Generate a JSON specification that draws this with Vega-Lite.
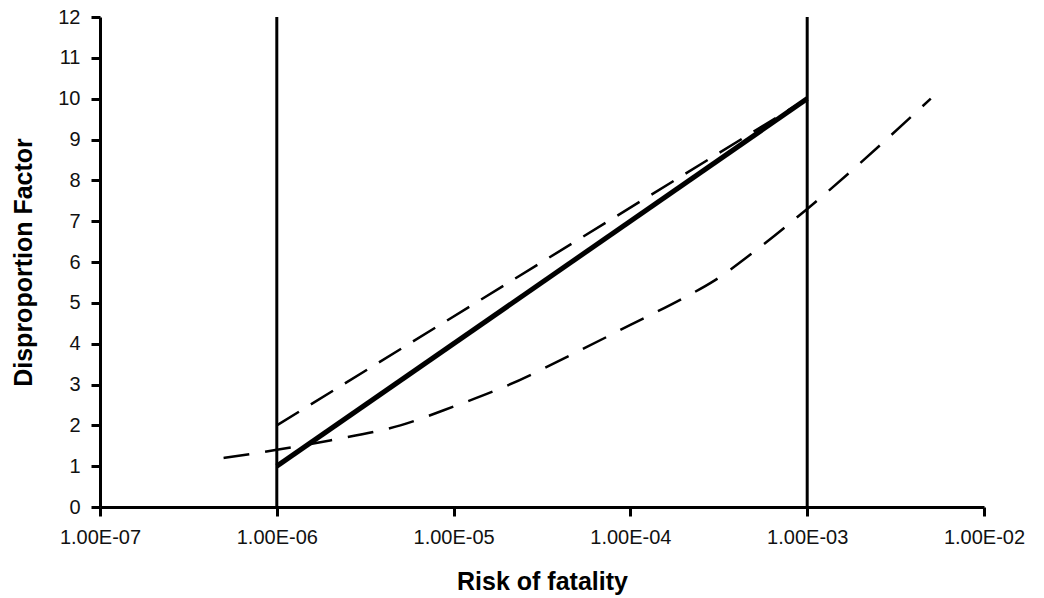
{
  "$schema": "https://vega.github.io/schema/vega-lite/v6.json",
  "width": 884,
  "height": 490,
  "autosize": {"type": "none"},
  "padding": {"left": 100, "top": 17, "right": 60, "bottom": 91},
  "background": "white",
  "config": {
    "view": {"stroke": null},
    "font": "Liberation Sans",
    "axis": {
      "grid": false,
      "domainColor": "#000",
      "domainWidth": 3,
      "tickColor": "#000",
      "tickWidth": 3,
      "tickSize": 9,
      "labelFont": "Liberation Sans",
      "labelFontSize": 20,
      "labelColor": "#111",
      "titleFont": "Liberation Sans",
      "titleFontSize": 25,
      "titleFontWeight": "bold",
      "titleColor": "#000",
      "labelOverlap": false,
      "labelFlush": false
    }
  },
  "datasets": {
    "bounds": [
      {"risk": 1e-6, "lo": 0, "hi": 12},
      {"risk": 1e-3, "lo": 0, "hi": 12}
    ],
    "lines": [
      {"series": "solid", "risk": 1e-6, "factor": 1},
      {"series": "solid", "risk": 1e-3, "factor": 10},
      {"series": "upper", "risk": 1e-6, "factor": 2},
      {"series": "upper", "risk": 1e-3, "factor": 10},
      {"series": "curve", "risk": 5e-7, "factor": 1.2},
      {"series": "curve", "risk": 1e-6, "factor": 1.4},
      {"series": "curve", "risk": 2e-6, "factor": 1.63},
      {"series": "curve", "risk": 5e-6, "factor": 2.0},
      {"series": "curve", "risk": 1e-5, "factor": 2.46},
      {"series": "curve", "risk": 2e-5, "factor": 2.97},
      {"series": "curve", "risk": 5e-5, "factor": 3.8},
      {"series": "curve", "risk": 1e-4, "factor": 4.46},
      {"series": "curve", "risk": 2e-4, "factor": 5.12},
      {"series": "curve", "risk": 3e-4, "factor": 5.55},
      {"series": "curve", "risk": 5e-4, "factor": 6.25},
      {"series": "curve", "risk": 1e-3, "factor": 7.3},
      {"series": "curve", "risk": 5e-3, "factor": 10}
    ]
  },
  "layer": [
    {
      "data": {"name": "bounds"},
      "mark": {"type": "rule", "color": "#000", "strokeWidth": 3},
      "encoding": {
        "x": {
          "field": "risk",
          "type": "quantitative",
          "scale": {"type": "log", "domain": [1e-7, 1e-2], "nice": false},
          "axis": {
            "title": "Risk of fatality",
            "values": [1e-7, 1e-6, 1e-5, 1e-4, 1e-3, 1e-2],
            "labelExpr": "'1.00E-0' + round(-log(datum.value)/LN10)",
            "labelPadding": 11,
            "titlePadding": 22
          }
        },
        "y": {
          "field": "lo",
          "type": "quantitative",
          "scale": {"domain": [0, 12], "nice": false},
          "axis": {
            "title": "Disproportion Factor",
            "values": [0, 1, 2, 3, 4, 5, 6, 7, 8, 9, 10, 11, 12],
            "labelPadding": 11,
            "titlePadding": 21
          }
        },
        "y2": {"field": "hi"}
      }
    },
    {
      "data": {"name": "lines"},
      "transform": [{"filter": "datum.series === 'curve'"}],
      "mark": {"type": "line", "color": "#000", "strokeWidth": 2.5, "strokeDash": [26, 16], "interpolate": "monotone"},
      "encoding": {
        "x": {"field": "risk", "type": "quantitative"},
        "y": {"field": "factor", "type": "quantitative"}
      }
    },
    {
      "data": {"name": "lines"},
      "transform": [{"filter": "datum.series === 'upper'"}],
      "mark": {"type": "line", "color": "#000", "strokeWidth": 2.5, "strokeDash": [26, 14]},
      "encoding": {
        "x": {"field": "risk", "type": "quantitative"},
        "y": {"field": "factor", "type": "quantitative"}
      }
    },
    {
      "data": {"name": "lines"},
      "transform": [{"filter": "datum.series === 'solid'"}],
      "mark": {"type": "line", "color": "#000", "strokeWidth": 5},
      "encoding": {
        "x": {"field": "risk", "type": "quantitative"},
        "y": {"field": "factor", "type": "quantitative"}
      }
    }
  ]
}
